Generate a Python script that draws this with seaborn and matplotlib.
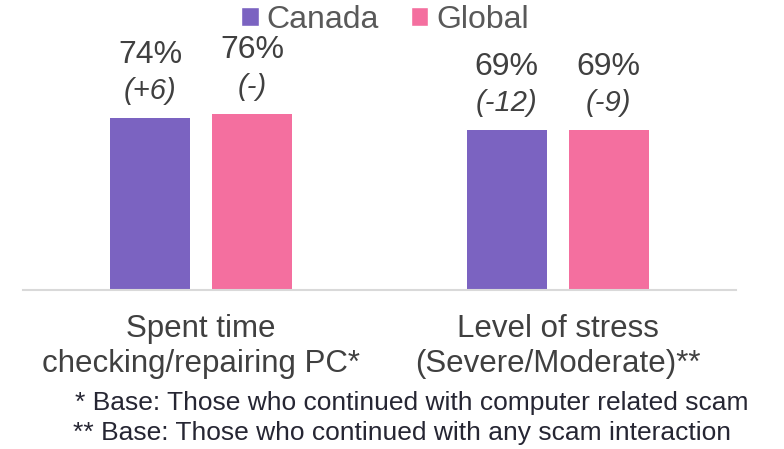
import matplotlib
matplotlib.use("Agg")
import matplotlib.pyplot as plt
import seaborn as sns
import pandas as pd
from matplotlib.patches import Patch

categories = ["Spent time\nchecking/repairing PC*", "Level of stress\n(Severe/Moderate)**"]
series = ["Canada", "Global"]
canada_values = [74, 69]
global_values = [76, 69]
canada_changes = ["(+6)", "(-12)"]
global_changes = ["(-)", "(-9)"]
footnotes = ["* Base: Those who continued with computer related scam",
             "** Base: Those who continued with any scam interaction"]
colors = ["#7B63C1", "#F46F9F"]

sns.set_theme(style="white")
plt.rcParams["font.family"] = ["Liberation Sans", "DejaVu Sans"]

df = pd.DataFrame({
    "category": categories * 2,
    "series": [series[0]] * 2 + [series[1]] * 2,
    "value": canada_values + global_values,
})

fig = plt.figure(figsize=(7.84, 4.49), dpi=100)
ax = fig.add_axes([23 / 784, 1 - 290 / 449, 713 / 784, 232 / 449])
sns.barplot(data=df, x="category", y="value", hue="series", palette=colors,
            saturation=1, width=0.572, gap=0.216, linewidth=0, ax=ax, legend=False)
ax.set_ylim(0, 100)
ax.set_xlim(-0.5, 1.5)
ax.set_xlabel("")
ax.set_ylabel("")
ax.set_yticks([])
for s in ["left", "right", "top"]:
    ax.spines[s].set_visible(False)
ax.spines["bottom"].set_color("#D9D9D9")
ax.spines["bottom"].set_linewidth(1.5)
ax.tick_params(axis="x", length=0, pad=17, labelsize=22.5, labelcolor="#404040")
for lbl in ax.get_xticklabels():
    lbl.set_linespacing(1.25)

changes = [canada_changes, global_changes]
for cont, ch in zip(ax.containers, changes):
    for bar, c in zip(cont, ch):
        x = bar.get_x() + bar.get_width() / 2
        h = bar.get_height()
        ax.annotate(f"{h:.0f}%", (x, h), xytext=(0, 45.5), textcoords="offset points",
                    ha="center", va="center", fontsize=23, color="#404040")
        ax.annotate(c, (x, h), xytext=(0, 19.5), textcoords="offset points",
                    ha="center", va="center", fontsize=21, style="italic", color="#404040")

handles = [Patch(facecolor=colors[i], label=series[i]) for i in range(2)]
fig.legend(handles=handles, loc="center", bbox_to_anchor=(385 / 784, 1 - 20 / 449),
           ncol=2, frameon=False, fontsize=23, handlelength=0.55, handleheight=0.55,
           handletextpad=0.25, columnspacing=1.0, labelcolor="#595959",
           borderpad=0, borderaxespad=0)

fig.text(75 / 784, 1 - 403 / 449, footnotes[0], ha="left", va="center", fontsize=19, color="#262633")
fig.text(73 / 784, 1 - 433 / 449, footnotes[1], ha="left", va="center", fontsize=19, color="#262633")

fig.savefig("out.png", dpi=100)
